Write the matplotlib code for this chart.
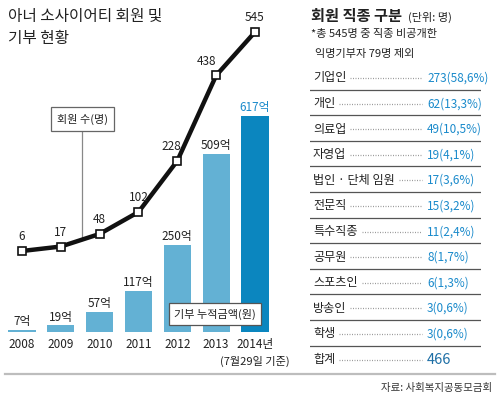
import matplotlib
matplotlib.use('Agg')
import matplotlib.pyplot as plt
import numpy as np
from matplotlib.lines import Line2D

plt.rcParams['font.family'] = ['Noto Sans CJK KR', 'DejaVu Sans']

# ---------------- data ----------------
years = ['2008', '2009', '2010', '2011', '2012', '2013', '2014년']
donations = [7, 19, 57, 117, 250, 509, 617]          # 기부 누적금액 (억 원)
members = [6, 17, 48, 102, 228, 438, 545]            # 회원 수 (명)

jobs = ['기업인', '개인', '의료업', '자영업', '법인 · 단체 임원', '전문직',
        '특수직종', '공무원', '스포츠인', '방송인', '학생']
job_counts = [273, 62, 49, 19, 17, 15, 11, 8, 6, 3, 3]
job_pcts = ['58,6', '13,3', '10,5', '4,1', '3,6', '3,2', '2,4', '1,7', '1,3', '0,6', '0,6']
job_total = 466

W, H = 500, 399
fig = plt.figure(figsize=(5, 3.99), dpi=100)
fig.patch.set_facecolor('white')


def fx(x):
    return x / W


def fy(y):
    return 1 - y / H


DARK = '#222222'
BLUE_TXT = '#1a8acb'

# ---------------- bar chart ----------------
step = 38.83
left = 22 - 0.5 * step
ax = fig.add_axes([fx(left), fy(332), 7 * step / W, 245 / H])
xi = np.arange(len(years))
bar_colors = ['#63b1d4'] * 6 + ['#0b86bf']
ax.bar(xi, donations, width=0.7, color=bar_colors, zorder=1)
ax.set_xlim(-0.5, 6.5)
ax.set_ylim(0, 700)
for sp in ax.spines.values():
    sp.set_visible(False)
ax.set_yticks([])
ax.set_xticks(xi, years)
ax.tick_params(axis='x', length=0, pad=4.5, labelsize=8.5, colors=DARK)
ax.patch.set_alpha(0)
for i, v in enumerate(donations):
    ax.annotate(f'{v}억', (i, v), xytext=(0, 1.2), textcoords='offset points',
                ha='center', va='bottom', fontsize=8.5,
                color=BLUE_TXT if i == 6 else DARK)
ax.annotate('(7월29일 기준)', (6, 0), xytext=(0, -21.5), textcoords='offset points',
            ha='center', va='center', fontsize=8, color=DARK, annotation_clip=False)

# legend box for bars
fig.text(fx(215), fy(314), '기부 누적금액(원)', ha='center', va='center', fontsize=8,
         color=DARK, zorder=5,
         bbox=dict(boxstyle='square,pad=0.45', fc='white', ec='#555555', lw=0.9))

# ---------------- line chart ----------------
scale = 0.4063
ymin = 6 - (332 - 251) / scale
ax2 = fig.add_axes([fx(left), fy(332), 7 * step / W, 332 / H])
ax2.set_xlim(-0.5, 6.5)
ax2.set_ylim(ymin, ymin + 332 / scale)
ax2.axis('off')
ax2.patch.set_alpha(0)
ax2.plot(xi, members, color='#111111', lw=3.2, marker='s', ms=5.5,
         mfc='white', mec='#111111', mew=1.2, zorder=3, clip_on=False)
label_dx = {4: -4.5, 5: -7}
for i, v in enumerate(members):
    ax2.annotate(f'{v}', (i, v), xytext=(label_dx.get(i, 0), 5.5),
                 textcoords='offset points', ha='center', va='bottom',
                 fontsize=8.5, color=DARK, annotation_clip=False)

# connector + legend box for line
cx = 1.55
cy = np.interp(cx, xi, members)
ax2.plot([cx, cx], [cy, ymin + (332 - 131) / scale], color='#888888', lw=0.9, zorder=2)
ax2.text(cx, ymin + (332 - 119) / scale, '회원 수(명)', ha='center', va='center',
         fontsize=8, color=DARK, zorder=5,
         bbox=dict(boxstyle='square,pad=0.55', fc='white', ec='#666666', lw=0.9))

# titles
fig.text(fx(8), fy(16), '아너 소사이어티 회원 및', ha='left', va='center',
         fontsize=11.3, color=DARK)
fig.text(fx(8), fy(38), '기부 현황', ha='left', va='center', fontsize=11.3, color=DARK)

# ---------------- right table ----------------
fig.text(fx(311), fy(16), '회원 직종 구분', ha='left', va='center', fontsize=11,
         fontweight='bold', color=DARK)
fig.text(fx(408), fy(17), '(단위: 명)', ha='left', va='center', fontsize=8, color=DARK)
fig.text(fx(311), fy(34), '*총 545명 중 직종 비공개한', ha='left', va='center',
         fontsize=8, color=DARK)
fig.text(fx(315), fy(54), '익명기부자 79명 제외', ha='left', va='center',
         fontsize=8, color=DARK)

axT = fig.add_axes([fx(310), fy(372.4), 171 / W, 307.2 / H])
axT.set_xlim(0, 171)
axT.set_ylim(11.5, -0.5)
axT.axis('off')

rows_lbl = jobs + ['합계']
rows_val = [f'{c}({p}%)' for c, p in zip(job_counts, job_pcts)] + [f'{job_total}']
label_texts = []
for i, (lab, val) in enumerate(zip(rows_lbl, rows_val)):
    t = axT.text(3, i, lab, ha='left', va='center', fontsize=8.7, color=DARK)
    label_texts.append(t)
    if i < len(jobs):
        axT.text(117, i, val, ha='left', va='center', fontsize=8.5, color=BLUE_TXT)
        axT.axhline(i + 0.45, color='#555555', lw=0.9)
    else:
        axT.text(117, i, val, ha='left', va='center', fontsize=10.5,
                 fontweight='medium', color='#1d6ea5')

fig.canvas.draw()
r = fig.canvas.get_renderer()
inv = axT.transData.inverted()
for i, t in enumerate(label_texts):
    bb = t.get_window_extent(renderer=r)
    x_end = inv.transform((bb.x1, bb.y0))[0]
    axT.plot([x_end + 4, 112], [i, i], color='#9a9a9a', lw=0.9,
             linestyle=(0, (0.8, 1.2)))

# bottom separator and source
fig.add_artist(Line2D([fx(5), fx(495)], [fy(374), fy(374)], color='#bdbdbd', lw=1.6))
fig.text(fx(492), fy(388), '자료: 사회복지공동모금회', ha='right', va='center',
         fontsize=7.5, color='#333333')

fig.savefig('out.png', dpi=100, facecolor='white')
